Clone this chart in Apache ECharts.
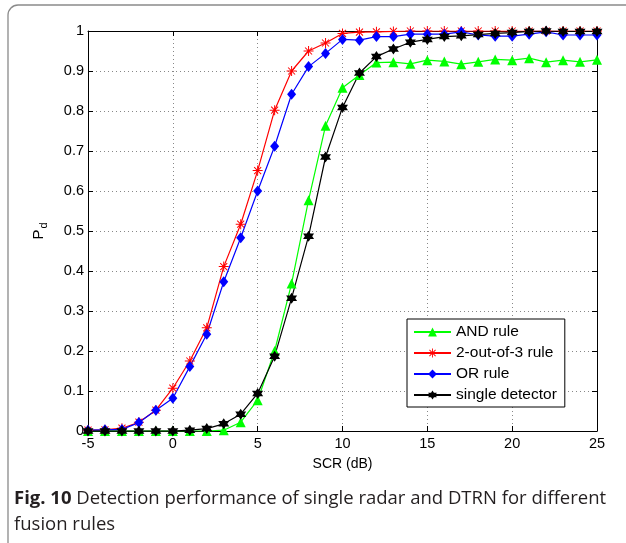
<!DOCTYPE html>
<html>
<head>
<meta charset="utf-8">
<script src="https://cdn.jsdelivr.net/npm/echarts@6/dist/echarts.min.js"></script>
<style>
  html, body { margin: 0; padding: 0; background: #fff; }
  #chart { width: 626px; height: 543px; }
</style>
</head>
<body>
<div id="chart"></div>
<script>
// SCR values (dB)
const scr = [-5, -4, -3, -2, -1, 0, 1, 2, 3, 4, 5, 6, 7, 8, 9, 10, 11, 12, 13, 14, 15, 16, 17, 18, 19, 20, 21, 22, 23, 24, 25];

// detection probability per fusion rule
const andRule = [0, 0, 0, 0, 0, 0, 0, 0, 0.002, 0.022, 0.077, 0.2, 0.369, 0.577, 0.763, 0.858, 0.89,
  0.921, 0.922, 0.918, 0.927, 0.924, 0.917, 0.923, 0.929, 0.927, 0.932, 0.922, 0.927, 0.923, 0.928];
const twoOf3Rule = [0.002, 0.003, 0.007, 0.022, 0.052, 0.107, 0.175, 0.258, 0.411, 0.517, 0.651, 0.802, 0.9, 0.95, 0.97, 0.994, 0.997,
  0.998, 0.999, 1, 1, 1, 1, 1, 1, 1, 1, 1, 1, 1, 1];
const orRule = [0.002, 0.003, 0.004, 0.021, 0.052, 0.082, 0.161, 0.242, 0.373, 0.483, 0.6, 0.712, 0.842, 0.911, 0.944, 0.979, 0.977,
  0.986, 0.986, 0.992, 0.992, 0.992, 0.998, 0.99, 0.987, 0.987, 0.992, 0.998, 0.99, 0.99, 0.99];
const singleDetector = [0, 0, 0, 0, 0, 0, 0.002, 0.006, 0.018, 0.042, 0.094, 0.187, 0.332, 0.487, 0.685, 0.809, 0.895,
  0.936, 0.955, 0.972, 0.979, 0.986, 0.988, 0.991, 0.994, 0.996, 0.999, 1, 0.999, 0.999, 0.999];

const xTicks = { min: -5, max: 25, interval: 5 };
const yTicks = { min: 0, max: 1, interval: 0.1 };

const caption = 'Detection performance of single radar and DTRN for different\nfusion rules';

// marker shapes (matlab-ish)
const asterisk = 'path://M45 0L55 0L55 100L45 100ZM0 45L100 45L100 55L0 55Z' +
  'M11.5 18.5L18.5 11.5L88.5 81.5L81.5 88.5ZM81.5 11.5L88.5 18.5L18.5 88.5L11.5 81.5Z';
const hexagram = 'path://M50 0L64.43 25L93.3 25L78.9 50L93.3 75L64.43 75L50 100L35.57 75L6.7 75L21.1 50L6.7 25L35.57 25Z';

const font = 'Liberation Sans, Arial, sans-serif';

const mk = (name, data, color, symbol, size) => ({
  name,
  type: 'line',
  data: scr.map((x, i) => [x, data[i]]),
  symbol,
  symbolSize: size,
  showSymbol: true,
  lineStyle: { color, width: 1.2 },
  itemStyle: { color, borderWidth: 0 },
  emphasis: { disabled: true },
});

const chart = echarts.init(document.getElementById('chart'));

const option = {
  animation: false,
  backgroundColor: '#fff',
  grid: { left: 88, right: 29, top: 31, bottom: 112, containLabel: false },
  legend: {
    orient: 'vertical',
    left: 407,
    top: 319,
    data: ['AND rule', '2-out-of-3 rule', 'OR rule', 'single detector'],
    itemWidth: 37,
    itemHeight: 11,
    itemGap: 5,
    padding: [5, 8, 4, 6],
    backgroundColor: '#fff',
    borderColor: '#000',
    borderWidth: 1,
    textStyle: { fontFamily: font, fontSize: 15.5, lineHeight: 16, color: '#000' },
  },
  xAxis: [
    {
      type: 'value',
      ...xTicks,
      name: 'SCR (dB)',
      nameLocation: 'middle',
      nameGap: 26,
      nameTextStyle: { fontFamily: font, fontSize: 14, color: '#000' },
      axisLine: { onZero: false, lineStyle: { color: '#000', width: 1 } },
      axisTick: { inside: true, length: 5, lineStyle: { color: '#000' } },
      axisLabel: { fontFamily: font, fontSize: 14.5, color: '#000', margin: 5 },
      splitLine: { lineStyle: { color: '#888', type: [1, 3] } },
    },
    {
      type: 'value',
      ...xTicks,
      position: 'top',
      axisLine: { onZero: false, lineStyle: { color: '#000', width: 1 } },
      axisTick: { inside: true, length: 5, lineStyle: { color: '#000' } },
      axisLabel: { show: false },
      splitLine: { show: false },
    },
  ],
  yAxis: [
    {
      type: 'value',
      ...yTicks,
      name: '{p|P}{d|d}',
      nameLocation: 'middle',
      nameRotate: 90,
      nameGap: 39,
      nameTextStyle: {
        color: '#000',
        rich: {
          p: { fontFamily: font, fontSize: 15, color: '#000' },
          d: { fontFamily: font, fontSize: 11, color: '#000', padding: [10, 0, 0, 1] },
        },
      },
      axisLine: { show: true, onZero: false, lineStyle: { color: '#000', width: 1 } },
      axisTick: { show: true, inside: true, length: 5, lineStyle: { color: '#000' } },
      axisLabel: { fontFamily: font, fontSize: 14.5, color: '#000', margin: 4 },
      splitLine: { lineStyle: { color: '#888', type: [1, 3] } },
    },
    {
      type: 'value',
      ...yTicks,
      position: 'right',
      axisLine: { show: true, onZero: false, lineStyle: { color: '#000', width: 1 } },
      axisTick: { show: true, inside: true, length: 5, lineStyle: { color: '#000' } },
      axisLabel: { show: false },
      splitLine: { show: false },
    },
  ],
  graphic: [
    {
      type: 'rect',
      z: -10,
      shape: { x: 8, y: 5, width: 700, height: 700, r: 10 },
      style: { fill: 'none', stroke: '#8a8a8a', lineWidth: 1.3 },
    },
    {
      type: 'text',
      left: 14,
      top: 486,
      style: {
        text: '{b|Fig. 10} ' + caption,
        font: '18.5px "Open Sans", sans-serif',
        fill: '#231f20',
        lineHeight: 26,
        rich: {
          b: { fontFamily: 'Open Sans', fontSize: 18.5, fontWeight: 'bold', fill: '#231f20', lineHeight: 26 },
        },
      },
    },
  ],
  series: [
    mk('AND rule', andRule, '#00ff00', 'triangle', 10),
    mk('2-out-of-3 rule', twoOf3Rule, '#ff0000', asterisk, 10),
    mk('OR rule', orRule, '#0000ff', 'diamond', [9, 11]),
    mk('single detector', singleDetector, '#000000', hexagram, 11),
  ],
};

chart.setOption(option);
</script>
</body>
</html>
